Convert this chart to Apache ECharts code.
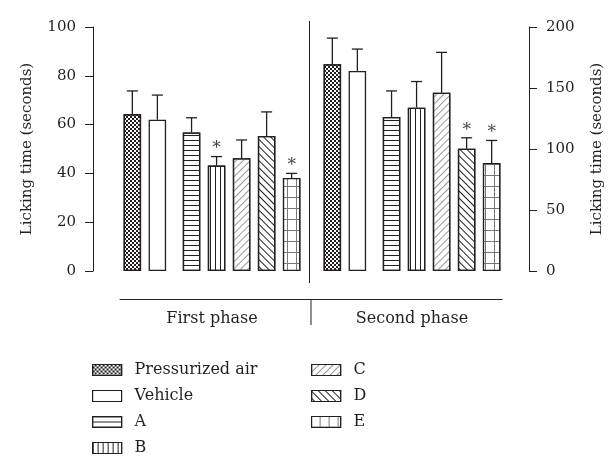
<!DOCTYPE html>
<html>
<head>
<meta charset="utf-8">
<script src="https://cdn.jsdelivr.net/npm/echarts@6/dist/echarts.min.js"></script>
<style>html,body{margin:0;padding:0;background:#fff}#chart{width:610px;height:460px}</style>
</head>
<body>
<div id="chart"></div>
<script>
// licking time per treatment
var groups = ['Pressurized air', 'Vehicle', 'A', 'B', 'C', 'D', 'E'];
var phases = ['First phase', 'Second phase'];
var firstMean = [64.3, 62.0, 56.8, 43.2, 46.2, 55.3, 38.1];
var firstSem = [9.5, 10.1, 6.0, 3.7, 7.5, 9.9, 1.9];
var firstSig = [0, 0, 0, 1, 0, 0, 1];
var secondMean = [169.5, 164.0, 126.2, 133.9, 146.2, 100.2, 88.6];
var secondSem = [21.4, 17.9, 21.4, 21.4, 33.0, 9.0, 18.4];
var secondSig = [0, 0, 0, 0, 0, 1, 1];
var leftTicks = [0, 20, 40, 60, 80, 100];
var rightTicks = [0, 50, 100, 150, 200];

var FONT = 'DejaVu Serif';
var INK = '#231f20';

var decals = [
	{symbol:'rect', symbolSize:1, color:INK, dashArrayX:[[2,2],[0,2,2,0]], dashArrayY:[2,0]},
	null,
	{symbol:'rect', symbolSize:1, color:INK, dashArrayX:[8,0], dashArrayY:[1,3.6]},
	{symbol:'rect', symbolSize:1, color:INK, dashArrayX:[1,3.2], dashArrayY:[8,0]},
	{symbol:'rect', symbolSize:1, color:'#999', dashArrayX:[8,0], dashArrayY:[1,4], rotation:-Math.PI/4},
	{symbol:'rect', symbolSize:1, color:INK, dashArrayX:[8,0], dashArrayY:[1,4], rotation:Math.PI/4},
	{symbol:'rect', symbolSize:1, color:'#fff', backgroundColor:'#777', dashArrayX:[8,1], dashArrayY:[10,1]}
];

// bar slots: 7 bars plus a thin empty slot after Vehicle
var barW = 17.5, gapW = 6.4, gapPct = 0.43;
var colWidths = [barW, barW, gapW, barW, barW, barW, barW, barW];
var barCenters = (function(){
	var sum = 0, i;
	for(i=0;i<colWidths.length;i++) sum += colWidths[i]*(1+gapPct);
	sum -= colWidths[colWidths.length-1]*gapPct;
	var off = -sum/2, out = [];
	for(i=0;i<colWidths.length;i++){
		if(i != 2) out.push(off + colWidths[i]/2);
		off += colWidths[i]*(1+gapPct);
	}
	return out;
})();

function barSeries(phase, means){
	var list = [];
	for(var i=0;i<groups.length;i++){
		var style = {color:'#fff', borderColor:INK, borderWidth:1.3};
		if(decals[i]) style.decal = decals[i];
		list.push({
			name: groups[i], type:'bar', xAxisIndex:phase, yAxisIndex:phase,
			barWidth: barW, barGap: (gapPct*100)+'%',
			data: [means[i]],
			itemStyle: style,
			emphasis: {disabled:true}
		});
		if(i == 1){
			list.push({name:'_gap', type:'bar', xAxisIndex:phase, yAxisIndex:phase,
				barWidth: gapW, barGap:(gapPct*100)+'%', data:['-'], silent:true});
		}
	}
	return list;
}

function errSeries(phase, means, sems, sigs){
	return {
		type:'custom', xAxisIndex:phase, yAxisIndex:phase, silent:true, z:3,
		data: means.map(function(m,i){ return [0, m, m + sems[i], i, sigs[i]]; }),
		encode: {x:0, y:[1,2]},
		renderItem: function(params, api){
			var base = api.coord([api.value(0), api.value(1)]);
			var top = api.coord([api.value(0), api.value(2)]);
			var x = base[0] + barCenters[api.value(3)];
			var kids = [
				{type:'line', shape:{x1:x, y1:base[1], x2:x, y2:top[1]}, style:{stroke:INK, lineWidth:1.3}},
				{type:'line', shape:{x1:x-5.5, y1:top[1], x2:x+5.5, y2:top[1]}, style:{stroke:INK, lineWidth:1.3}}
			];
			if(api.value(4)){
				kids.push({type:'text', style:{text:'*', x:x, y:top[1]+1, align:'center', verticalAlign:'bottom',
					fontFamily:FONT, fontSize:17, fill:'#444'}});
			}
			return {type:'group', children:kids};
		}
	};
}

function valueAxis(grid, pos, ticks, off, gap){
	return {
		type:'value', gridIndex:grid, position:pos, offset:off,
		min: ticks[0], max: ticks[ticks.length-1], interval: ticks[1]-ticks[0],
		name:'Licking time (seconds)', nameLocation:'middle', nameGap:gap, nameRotate:90,
		nameTextStyle:{fontFamily:FONT, fontSize:15, color:INK},
		axisLine:{show:true, lineStyle:{color:INK, width:1}},
		axisTick:{show:true, length:8, lineStyle:{color:INK}},
		axisLabel:{fontFamily:FONT, fontSize:15, color:INK, margin:17},
		splitLine:{show:false}
	};
}

function phaseAxis(grid, label){
	return {
		type:'category', gridIndex:grid, data:[label], offset:28,
		axisLine:{show:false}, axisTick:{show:false},
		axisLabel:{fontFamily:FONT, fontSize:16, color:INK, margin:12}
	};
}

var legendText = {fontFamily:FONT, fontSize:16, color:INK, padding:[0,0,0,8]};
var legendIcon = {borderColor:INK, borderWidth:1.2};

var chart = echarts.init(document.getElementById('chart'));
var option = {
	animation:false,
	backgroundColor:'#fff',
	grid:[
		{left:115, top:27, width:194, height:244},
		{left:310, top:27, width:204, height:244},
		{left:120, top:298, width:382, height:1}
	],
	xAxis:[
		phaseAxis(0, phases[0]),
		phaseAxis(1, phases[1]),
		{type:'category', gridIndex:2, data:phases, axisLine:{lineStyle:{color:INK}},
			axisTick:{show:false}, axisLabel:{show:false}}
	],
	yAxis:[
		valueAxis(0, 'left', leftTicks, 22, 58),
		valueAxis(1, 'right', rightTicks, 15, 61),
		{type:'value', gridIndex:2, show:false}
	],
	legend:[
		{orient:'vertical', left:92, top:362, height:98, padding:0, itemWidth:29, itemHeight:11, itemGap:10,
			icon:'rect', selectedMode:false, data:groups.slice(0,4), textStyle:legendText, itemStyle:legendIcon},
		{orient:'vertical', left:311, top:362, height:98, padding:0, itemWidth:29, itemHeight:11, itemGap:10,
			icon:'rect', selectedMode:false, data:groups.slice(4), textStyle:legendText, itemStyle:legendIcon}
	],
	graphic:[
		{type:'line', shape:{x1:309.5, y1:21, x2:309.5, y2:283}, style:{stroke:INK, lineWidth:1}},
		{type:'line', shape:{x1:311, y1:299, x2:311, y2:325}, style:{stroke:INK, lineWidth:1}}
	],
	series: barSeries(0, firstMean)
		.concat(barSeries(1, secondMean))
		.concat([errSeries(0, firstMean, firstSem, firstSig), errSeries(1, secondMean, secondSem, secondSig)])
};
chart.setOption(option);
</script>
</body>
</html>
